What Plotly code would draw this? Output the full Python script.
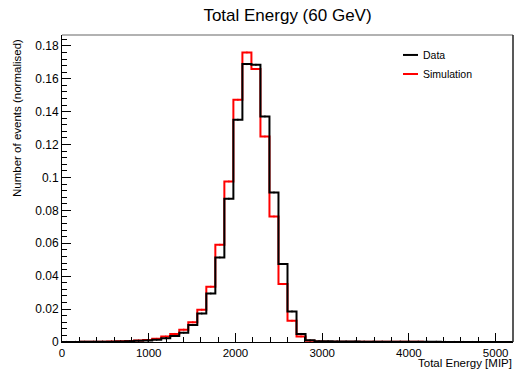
import plotly.graph_objects as go

# Histogram binning: 50 bins over 0-5200 MIP
x_min = 0
x_max = 5200
n_bins = 50

data_vals = [0.00003, 0.00005, 0.00008, 0.0001, 0.00015, 0.0002, 0.0003, 0.0005, 0.0007, 0.0009,
             0.0013, 0.0023, 0.0037, 0.0056, 0.0103, 0.0173, 0.0295, 0.0514, 0.0871, 0.1351,
             0.1689, 0.1685, 0.1371, 0.0909, 0.0474, 0.0186, 0.0049, 0.0010, 0.0005, 0.0004,
             0.0003, 0.0003, 0.0003, 0.0002, 0.0002, 0.0002, 0.0002, 0.0002, 0.00015, 0.00015,
             0.0001, 0.0001, 0.00005, 0.00004, 0.00003, 0.00003, 0.00002, 0.00002, 0.00001, 0.00001]

sim_vals = [0.00003, 0.00005, 0.00008, 0.0001, 0.0002, 0.0003, 0.0004, 0.0006, 0.0009, 0.0012,
            0.0019, 0.0033, 0.0049, 0.0075, 0.0120, 0.0196, 0.0336, 0.0591, 0.0976, 0.1472,
            0.1760, 0.1659, 0.1249, 0.0763, 0.0352, 0.0129, 0.0034, 0.0007, 0.0003, 0.0002,
            0.0002, 0.0001, 0.0001, 0.0001, 0.0001, 0.0001, 0.0001, 0.0001, 0.0001, 0.0001,
            0.00005, 0.00005, 0.00003, 0.00002, 0.00002, 0.00001, 0.00001, 0.0, 0.0, 0.0]

series_names = ["Data", "Simulation"]
series_colors = ["#000000", "#ff0000"]

title_text = "Total Energy (60 GeV)"
x_title = "Total Energy [MIP]"
y_title = "Number of events (normalised)"

bin_w = (x_max - x_min) / n_bins
edges = [x_min + i * bin_w for i in range(n_bins + 1)]
centers = [x_min + (i + 0.5) * bin_w for i in range(n_bins)]

FONT = "Liberation Sans, Arial, Helvetica, sans-serif"

fig = go.Figure()

# draw simulation first, data on top
for name, vals, col, err in [(series_names[1], sim_vals, series_colors[1], 0.0006),
                             (series_names[0], data_vals, series_colors[0], 0.0006)]:
    fig.add_trace(go.Scatter(
        x=edges, y=list(vals) + [vals[-1]],
        mode="lines", line=dict(color=col, width=2, shape="hv"),
        name=name, showlegend=False, hoverinfo="skip"))
    fig.add_trace(go.Scatter(
        x=centers, y=vals, mode="markers",
        marker=dict(size=1, color=col),
        error_y=dict(type="constant", value=err, color=col, thickness=1, width=0),
        showlegend=False, hoverinfo="skip"))

fig.update_layout(
    width=515, height=369,
    margin=dict(l=62, r=2, t=35, b=27),
    paper_bgcolor="white", plot_bgcolor="white",
    font=dict(family=FONT, size=12, color="black"),
    title=dict(text=title_text, x=0.5, xref="paper", xanchor="center",
               y=1, yref="container", yanchor="top", pad=dict(t=9),
               font=dict(size=17, family=FONT, color="black")),
    showlegend=False,
)

fig.update_xaxes(
    range=[x_min, x_max], showgrid=False, zeroline=False,
    showline=True, linecolor="black", linewidth=1, mirror=False,
    ticks="inside", ticklen=9, tickcolor="black", tickwidth=1,
    dtick=1000, tick0=0, tickfont=dict(size=11.5),
    minor=dict(ticks="inside", ticklen=5, dtick=200, tickcolor="black", showgrid=False),
)
fig.update_yaxes(
    range=[0, 0.1866], showgrid=False, zeroline=False,
    showline=True, linecolor="black", linewidth=1, mirror=False,
    ticks="inside", ticklen=9, tickcolor="black", tickwidth=1,
    dtick=0.02, tick0=0, tickfont=dict(size=12),
    minor=dict(ticks="inside", ticklen=5, dtick=0.004, tickcolor="black", showgrid=False),
)

# frame top (grey) and right (black)
fig.add_shape(type="line", xref="paper", yref="paper", x0=0, x1=1, y0=1, y1=1,
              line=dict(color="#999999", width=1.5))
fig.add_shape(type="line", xref="paper", yref="paper", x0=1, x1=1, y0=0, y1=1,
              line=dict(color="#222222", width=1.5))

# axis titles
fig.add_annotation(text=x_title, xref="paper", yref="paper", x=1, y=0,
                   xanchor="right", yanchor="top", yshift=-13.5, showarrow=False,
                   borderpad=0, font=dict(size=11.5, family=FONT))
fig.add_annotation(text=y_title, xref="paper", yref="paper", x=0, y=1,
                   xanchor="center", yanchor="top", xshift=-45, yshift=-2,
                   textangle=-90, showarrow=False, font=dict(size=11.5, family=FONT))

# legend (line samples + labels)
leg_y = [0.935, 0.873]
for name, col, yy in zip(series_names, series_colors, leg_y):
    fig.add_shape(type="line", xref="paper", yref="paper",
                  x0=(403 - 62) / 451, x1=(418 - 62) / 451, y0=yy, y1=yy,
                  line=dict(color=col, width=2))
    fig.add_annotation(text=name, xref="paper", yref="paper",
                       x=(421 - 62) / 451, y=yy, xanchor="left", yanchor="middle",
                       showarrow=False, font=dict(size=10.5, family=FONT))

fig.write_html("out.html", config={"displayModeBar": False},
               post_script="document.body.style.margin='0px';")
